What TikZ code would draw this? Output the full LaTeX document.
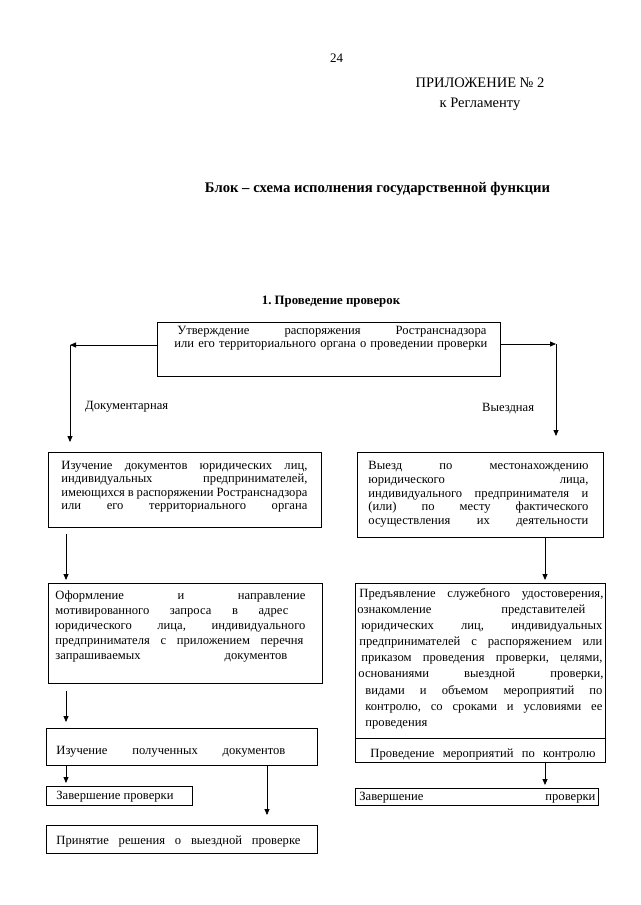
\documentclass[tikz,border=0pt]{standalone}
\usepackage{fontspec}
\setmainfont{Liberation Serif}
\usetikzlibrary{arrows.meta}
\frenchspacing
\newcommand\boxtext[5]{\vbox to #2{\baselineskip=#4\relax\lineskiplimit=-100pt\relax\hbox to #1{}\vskip\dimexpr#3-#4\relax #5\vss}}
\newcommand\jline[3]{\hbox{\hskip#1\relax\makebox[#2][s]{#3}}}
\newcommand\nline[2]{\hbox{\hskip#1\relax #2}}
\begin{document}
\begin{tikzpicture}[x=1pt,y=-1pt,
  box/.style={draw, line width=0.85pt, inner sep=0pt, anchor=north west, font=\fontsize{12.6}{14}\selectfont},
  arr/.style={line width=0.85pt, -{Triangle[length=6pt,width=5pt]}},
  lbl/.style={font=\fontsize{12.6}{14}\selectfont, anchor=base west, inner sep=0pt}]
\useasboundingbox[fill=white] (0,0) rectangle (640,905);
% headers
\node[anchor=base, inner sep=0pt, font=\fontsize{13}{15}\selectfont] (pg) at (336.5,62) {24};
\node[anchor=base, inner sep=0pt, font=\fontsize{14.5}{16}\selectfont] (app) at (480,87) {ПРИЛОЖЕНИЕ № 2};
\node[anchor=base, inner sep=0pt, font=\fontsize{14.5}{16}\selectfont] (reg) at (480,107) {к Регламенту};
\node[anchor=base, inner sep=0pt, font=\bfseries\fontsize{14.7}{16}\selectfont] (title) at (377.5,192) {Блок – схема исполнения государственной функции};
\node[anchor=base, inner sep=0pt, font=\bfseries\fontsize{12.8}{14}\selectfont] (sec) at (331,304) {1. Проведение проверок};
% top box
\node[box] (T) at (157,322) {\boxtext{343pt}{54pt}{12pt}{13pt}{%
 \jline{20pt}{309pt}{Утверждение распоряжения Ространснадзора}%
 \jline{17pt}{313pt}{или его территориального органа о проведении проверки}}};
% left column
\node[box] (A) at (48,452) {\boxtext{273pt}{75pt}{17pt}{13.5pt}{%
 \jline{13pt}{246pt}{Изучение документов юридических лиц,}%
 \jline{13pt}{246pt}{индивидуальных предпринимателей,}%
 \jline{13pt}{246pt}{имеющихся в распоряжении Ространснадзора}%
 \jline{13pt}{246pt}{или его территориального органа}}};
\node[box] (B) at (48,583) {\boxtext{274pt}{100pt}{16pt}{15pt}{%
 \jline{7pt}{250pt}{Оформление и направление}%
 \jline{7pt}{233pt}{мотивированного запроса в адрес}%
 \jline{7pt}{250pt}{юридического лица, индивидуального}%
 \jline{7pt}{248pt}{предпринимателя с приложением перечня}%
 \jline{7pt}{232pt}{запрашиваемых документов}}};
\node[box] (C) at (46,728) {\boxtext{271pt}{37pt}{26pt}{14pt}{%
 \jline{10pt}{229pt}{Изучение полученных документов}}};
\node[box] (D) at (46,786) {\boxtext{146pt}{19pt}{13pt}{14pt}{%
 \nline{10pt}{Завершение проверки}}};
\node[box] (E) at (46,825) {\boxtext{271pt}{28pt}{19pt}{14pt}{%
 \jline{10pt}{244pt}{Принятие решения о выездной проверке}}};
% right column
\node[box] (F) at (357,452) {\boxtext{246pt}{85pt}{17pt}{13.8pt}{%
 \jline{11pt}{220pt}{Выезд по местонахождению}%
 \jline{11pt}{220pt}{юридического лица,}%
 \jline{11pt}{220pt}{индивидуального предпринимателя и}%
 \jline{11pt}{220pt}{(или) по месту фактического}%
 \jline{11pt}{220pt}{осуществления их деятельности}}};
\node[box] (G) at (355,583) {\boxtext{250pt}{155pt}{14pt}{16.1pt}{%
 \jline{4pt}{244pt}{Предъявление служебного удостоверения,}%
 \jline{2pt}{228pt}{ознакомление представителей}%
 \jline{6pt}{241pt}{юридических лиц, индивидуальных}%
 \jline{4pt}{243pt}{предпринимателей с распоряжением или}%
 \jline{6pt}{241pt}{приказом проведения проверки, целями,}%
 \jline{3pt}{245pt}{основаниями выездной проверки,}%
 \jline{10pt}{237pt}{видами и объемом мероприятий по}%
 \jline{10pt}{237pt}{контролю, со сроками и условиями ее}%
 \nline{10pt}{проведения}}};
\node[box] (H) at (355,738) {\boxtext{250pt}{24pt}{19pt}{14pt}{%
 \jline{15pt}{225pt}{Проведение мероприятий по контролю}}};
\node[box] (I) at (355,788) {\boxtext{243pt}{17pt}{12pt}{14pt}{%
 \jline{4pt}{236pt}{Завершение проверки}}};
% labels
\node[lbl] (doc) at (85,409) {Документарная};
\node[lbl] (vyezd) at (482,411) {Выездная};
% connectors
\coordinate (tl) at (70,345);
\coordinate (tr) at (556,344);
\coordinate (xl) at (66,0);
\coordinate (xm) at (267,0);
\coordinate (xr) at (545,0);
\draw[arr] (T.west |- tl) -- (tl);
\draw[arr, shorten >=10pt] (tl) -- (A.north -| tl);
\draw[arr] (T.east |- tr) -- (tr);
\draw[arr, shorten >=16pt] (tr) -- (F.north -| tr);
\draw[arr, shorten <=6pt, shorten >=3pt] (A.south -| xl) -- (B.north -| xl);
\draw[arr, shorten <=7pt, shorten >=6pt] (B.south -| xl) -- (C.north -| xl);
\draw[arr, shorten >=3pt] (C.south -| xl) -- (D.north -| xl);
\draw[arr, shorten >=10pt] (C.south -| xm) -- (E.north -| xm);
\draw[arr, shorten >=3pt] (F.south -| xr) -- (G.north -| xr);
\draw[arr, shorten >=3pt] (H.south -| xr) -- (I.north -| xr);
\end{tikzpicture}
\end{document}
